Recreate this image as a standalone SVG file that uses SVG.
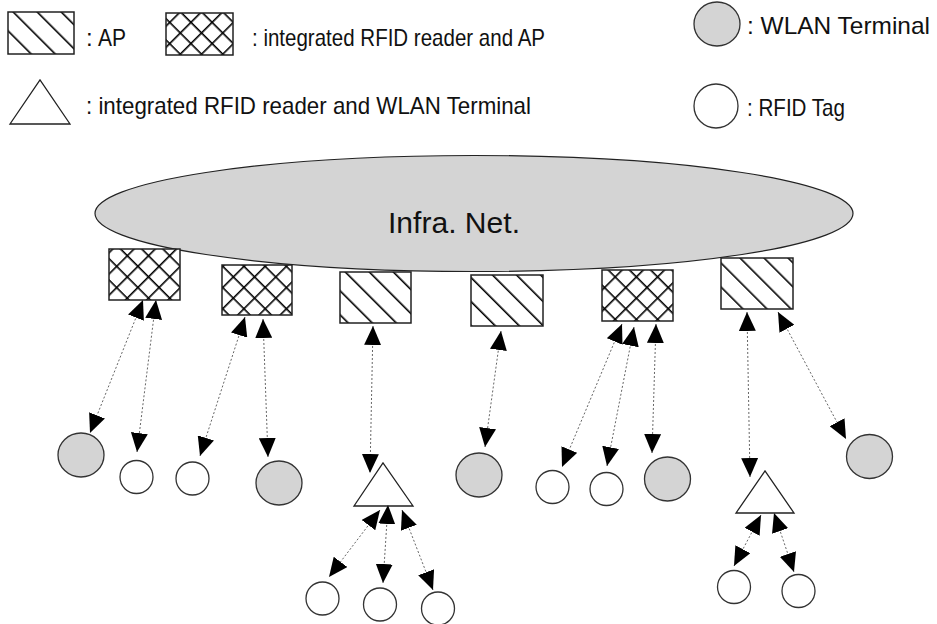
<svg xmlns="http://www.w3.org/2000/svg" width="937" height="624" viewBox="0 0 937 624">
  <style>
    .lbl { font-family: "Liberation Sans", Arial, sans-serif; font-size: 24px; fill: #111; }
    .net { font-family: "Liberation Sans", Arial, sans-serif; font-size: 30px; fill: #111; }
    .ap { fill: url(#hatch); stroke: #222; stroke-width: 1.5; }
    .rfap { fill: url(#cross); stroke: #222; stroke-width: 1.5; }
    .term { fill: #d4d4d4; stroke: #333; stroke-width: 1.3; }
    .tag { fill: #fff; stroke: #333; stroke-width: 1.3; }
    .rdr { fill: #fff; stroke: #222; stroke-width: 1.3; }
    .link { stroke: #666; stroke-width: 1; stroke-dasharray: 2 2; fill: none;
            marker-start: url(#head); marker-end: url(#head); }
  </style>
  <defs>
    <!-- single diagonal hatch for plain access points -->
    <pattern id="hatch" patternUnits="userSpaceOnUse" width="17" height="17" patternTransform="rotate(-45)">
      <rect width="17" height="17" fill="#fff"/>
      <line x1="0" y1="0" x2="0" y2="17" stroke="#000" stroke-width="3.2"/>
    </pattern>
    <!-- cross hatch for RFID reader + AP -->
    <pattern id="cross" patternUnits="userSpaceOnUse" width="15" height="15" patternTransform="rotate(45)">
      <rect width="15" height="15" fill="#fff"/>
      <line x1="0" y1="0" x2="0" y2="15" stroke="#000" stroke-width="3.2"/>
      <line x1="0" y1="0" x2="15" y2="0" stroke="#000" stroke-width="3.2"/>
    </pattern>
    <marker id="head" viewBox="0 0 19 17" refX="19" refY="8.5" markerWidth="19" markerHeight="17"
            markerUnits="userSpaceOnUse" orient="auto-start-reverse">
      <path d="M0,0 L19,8.5 L0,17 z" fill="#000"/>
    </marker>
  </defs>

  <!-- legend -->
  <g id="legend">
    <rect class="ap" x="8" y="12" width="66" height="42"/>
    <text class="lbl" x="86" y="46">:</text>
    <text class="lbl" x="98" y="46" textLength="28" lengthAdjust="spacingAndGlyphs">AP</text>
    <rect class="rfap" x="166" y="13" width="67" height="42"/>
    <text class="lbl" x="252" y="46" textLength="293" lengthAdjust="spacingAndGlyphs">: integrated RFID reader and AP</text>
    <polygon class="rdr" points="10,124 40,80 70,124"/>
    <text class="lbl" x="86" y="114" textLength="445" lengthAdjust="spacingAndGlyphs">: integrated RFID reader and WLAN Terminal</text>
    <ellipse class="term" cx="717" cy="24" rx="23" ry="22"/>
    <text class="lbl" x="747" y="34" textLength="183" lengthAdjust="spacingAndGlyphs">: WLAN Terminal</text>
    <ellipse class="tag" cx="716" cy="106" rx="22" ry="22"/>
    <text class="lbl" x="747" y="116" textLength="98" lengthAdjust="spacingAndGlyphs">: RFID Tag</text>
  </g>

  <!-- infrastructure network -->
  <g id="infra">
    <ellipse cx="474" cy="213.5" rx="379" ry="58" fill="#d4d4d4" stroke="#222" stroke-width="1.2"/>
    <text class="net" x="388" y="233" textLength="132" lengthAdjust="spacingAndGlyphs">Infra. Net.</text>
  </g>

  <!-- access points -->
  <g id="ap1"><rect class="rfap" x="109" y="249" width="71" height="51"/></g>
  <g id="ap2"><rect class="rfap" x="222" y="265" width="70" height="50"/></g>
  <g id="ap3"><rect class="ap" x="340" y="272" width="71" height="51"/></g>
  <g id="ap4"><rect class="ap" x="471" y="275" width="72" height="51"/></g>
  <g id="ap5"><rect class="rfap" x="602" y="270" width="71" height="51"/></g>
  <g id="ap6"><rect class="ap" x="721" y="258" width="72" height="51"/></g>

  <!-- terminals, readers and tags -->
  <g id="term1"><ellipse class="term" cx="81" cy="455" rx="23" ry="22"/></g>
  <g id="tag1"><circle class="tag" cx="136.5" cy="477" r="16.5"/></g>
  <g id="tag2"><circle class="tag" cx="192.5" cy="478.5" r="16.5"/></g>
  <g id="term2"><ellipse class="term" cx="279" cy="483" rx="23" ry="22"/></g>
  <g id="reader1"><polygon class="rdr" points="354,506 383,463 413,506"/></g>
  <g id="term3"><ellipse class="term" cx="479" cy="475" rx="23" ry="22"/></g>
  <g id="tag3"><circle class="tag" cx="552.5" cy="487" r="16.5"/></g>
  <g id="tag4"><circle class="tag" cx="606.5" cy="489" r="16.5"/></g>
  <g id="term4"><ellipse class="term" cx="667.5" cy="479" rx="23" ry="22"/></g>
  <g id="reader2"><polygon class="rdr" points="736,513 765,471 794,513"/></g>
  <g id="term5"><ellipse class="term" cx="869.5" cy="456.5" rx="23" ry="22"/></g>
  <g id="tag5"><circle class="tag" cx="322.5" cy="598.5" r="16.5"/></g>
  <g id="tag6"><circle class="tag" cx="380" cy="604.5" r="16.5"/></g>
  <g id="tag7"><circle class="tag" cx="438" cy="608.5" r="16.5"/></g>
  <g id="tag8"><circle class="tag" cx="734" cy="587" r="16.5"/></g>
  <g id="tag9"><circle class="tag" cx="798.5" cy="591" r="16.5"/></g>

  <!-- wireless links -->
  <g id="links">
    <line class="link" x1="143" y1="300" x2="90" y2="433"/>
    <line class="link" x1="156" y1="300" x2="137" y2="452"/>
    <line class="link" x1="245" y1="317" x2="200" y2="456"/>
    <line class="link" x1="263" y1="319" x2="268" y2="457"/>
    <line class="link" x1="373" y1="326" x2="370" y2="473"/>
    <line class="link" x1="501" y1="331" x2="485" y2="447"/>
    <line class="link" x1="622" y1="324" x2="562" y2="467"/>
    <line class="link" x1="634" y1="327" x2="607" y2="466"/>
    <line class="link" x1="656" y1="324" x2="652" y2="453"/>
    <line class="link" x1="747" y1="312" x2="750" y2="477"/>
    <line class="link" x1="778" y1="312" x2="846" y2="439"/>
    <line class="link" x1="380" y1="510" x2="329" y2="577"/>
    <line class="link" x1="388" y1="505" x2="383" y2="583"/>
    <line class="link" x1="402" y1="510" x2="433" y2="590"/>
    <line class="link" x1="761" y1="515" x2="734" y2="566"/>
    <line class="link" x1="774" y1="513" x2="794" y2="572"/>
  </g>
</svg>
